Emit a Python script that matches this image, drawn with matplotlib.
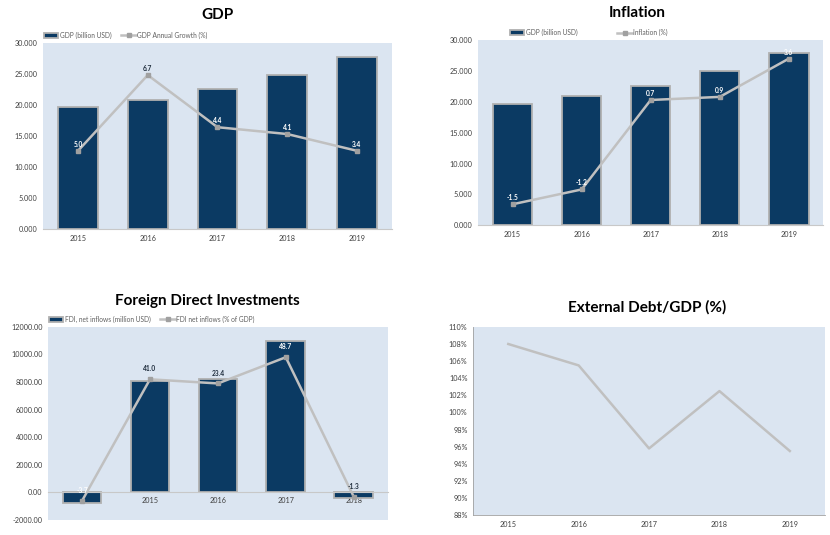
import matplotlib
matplotlib.use("Agg")
import matplotlib.pyplot as plt

plt.rcParams["font.family"] = ["Lato", "DejaVu Sans"]

# ---- data ----
years = ["2015", "2016", "2017", "2018", "2019"]
fdi_years = ["2014", "2015", "2016", "2017", "2018"]

gdp_bn = [19700, 20800, 22500, 24800, 27700]
gdp_growth_level = [12600, 24800, 16400, 15300, 12600]   # where the line sits on the bar axis
gdp_growth_labels = ["5.0", "6.7", "4.4", "4.1", "3.4"]

infl_gdp_bn = [19700, 20900, 22500, 25000, 27900]
inflation_level = [3400, 5800, 20300, 20800, 27000]
inflation_labels = ["-1.5", "-1.2", "0.7", "0.9", "3.6"]

fdi_musd = [-800, 8100, 8200, 11000, -400]
fdi_pct_level = [-600, 8200, 7900, 9800, -300]
fdi_pct_labels = ["-3.7", "41.0", "23.4", "48.7", "-1.3"]

debt_pct = [108.0, 105.5, 95.8, 102.5, 95.5]

gdp_ticks = [0, 5000, 10000, 15000, 20000, 25000, 30000]
gdp_ticklabels = ["0.000", "5.000", "10.000", "15.000", "20.000", "25.000", "30.000"]
fdi_ticks = [-2000, 0, 2000, 4000, 6000, 8000, 10000, 12000]
fdi_ticklabels = ["-2000.00", "0.00", "2000.00", "4000.00", "6000.00", "8000.00",
                  "10000.00", "12000.00"]
debt_ticks = list(range(88, 111, 2))
debt_ticklabels = [f"{t}%" for t in debt_ticks]

NAVY = "#0b3a63"
BG = "#dbe5f1"
LINE = "#c0c0c0"
MARK = "#a0a0a0"
TXT = "#404040"


def _legend(ax, x0=-0.01, gap=1.5):
    h, l = ax.get_legend_handles_labels()
    ax.legend(h[::-1], l[::-1], loc="lower left", bbox_to_anchor=(x0, 1.0), ncol=2,
              frameon=False, fontsize=4.8, labelcolor="#606060", handlelength=2.2,
              borderaxespad=0.2, columnspacing=gap, handletextpad=0.2)


def _bar_line(ax, cats, bars, level, labels, bar_label, line_label):
    x = range(len(cats))
    ax.set_facecolor(BG)
    ax.bar(x, bars, width=0.57, color=NAVY, edgecolor="#b0b0b0", linewidth=1.3,
           label=bar_label, zorder=2)
    ax.plot(x, level, color=LINE, lw=1.8, marker="s", ms=3.5, mfc=MARK, mec=MARK,
            label=line_label, zorder=3)
    for xi, b, lv, lab in zip(x, bars, level, labels):
        if b < 0:
            inside = b < -600
        else:
            inside = lv < b - 800
        ax.text(xi, lv + 500, lab, ha="center", va="bottom", fontsize=4.8,
                fontweight="bold", color="white" if inside else "#1f2d3d", zorder=4)
    ax.set_xticks(list(x))
    ax.set_xticklabels(cats)
    ax.set_xlim(-0.5, len(cats) - 0.5)
    for s in ["top", "right", "left"]:
        ax.spines[s].set_visible(False)
    ax.spines["bottom"].set_color("#c8c8c8")
    ax.tick_params(length=0, labelsize=5.2, colors=TXT, pad=4)
    _legend(ax)


fig = plt.figure(figsize=(8.3, 5.35), dpi=100)

# GDP
ax1 = fig.add_axes([0.052, 0.572, 0.420, 0.348])
_bar_line(ax1, years, gdp_bn, gdp_growth_level, gdp_growth_labels,
          "GDP (billion USD)", "GDP Annual Growth (%)")
ax1.set_ylim(0, 30000)
ax1.set_yticks(gdp_ticks)
ax1.set_yticklabels(gdp_ticklabels)
fig.text(0.262, 0.972, "GDP", ha="center", va="center", fontsize=11, fontweight="bold")

# Inflation
ax2 = fig.add_axes([0.576, 0.579, 0.416, 0.346])
_bar_line(ax2, years, infl_gdp_bn, inflation_level, inflation_labels,
          "GDP (billion USD)", "Inflation (%)")
ax2.set_ylim(0, 30000)
ax2.set_yticks(gdp_ticks)
ax2.set_yticklabels(gdp_ticklabels)
_legend(ax2, x0=0.08, gap=6)
fig.text(0.768, 0.975, "Inflation", ha="center", va="center", fontsize=11,
         fontweight="bold")

# FDI
ax3 = fig.add_axes([0.058, 0.028, 0.409, 0.361])
_bar_line(ax3, fdi_years, fdi_musd, fdi_pct_level, fdi_pct_labels,
          "FDI, net inflows (million USD)", "FDI net inflows (% of GDP)")
ax3.set_ylim(-2000, 12000)
ax3.set_yticks(fdi_ticks)
ax3.set_yticklabels(fdi_ticklabels)
ax3.spines["bottom"].set_position(("data", 0))
ax3.tick_params(axis="x", pad=3)
fig.text(0.25, 0.437, "Foreign Direct Investments", ha="center", va="center",
         fontsize=11, fontweight="bold")

# External debt / GDP
ax4 = fig.add_axes([0.570, 0.037, 0.424, 0.352])
ax4.set_facecolor(BG)
ax4.plot(range(len(years)), debt_pct, color=LINE, lw=1.8)
ax4.set_xticks(range(len(years)))
ax4.set_xticklabels(years)
ax4.set_xlim(-0.5, len(years) - 0.5)
ax4.set_ylim(88, 110)
ax4.set_yticks(debt_ticks)
ax4.set_yticklabels(debt_ticklabels)
for s in ["top", "right"]:
    ax4.spines[s].set_visible(False)
for s in ["left", "bottom"]:
    ax4.spines[s].set_color("#a0a0a0")
    ax4.spines[s].set_linewidth(0.6)
ax4.tick_params(length=0, labelsize=5.2, colors=TXT, pad=4)
fig.text(0.78, 0.426, "External Debt/GDP (%)", ha="center", va="center", fontsize=11,
         fontweight="bold")

fig.savefig("out.png", dpi=100)
